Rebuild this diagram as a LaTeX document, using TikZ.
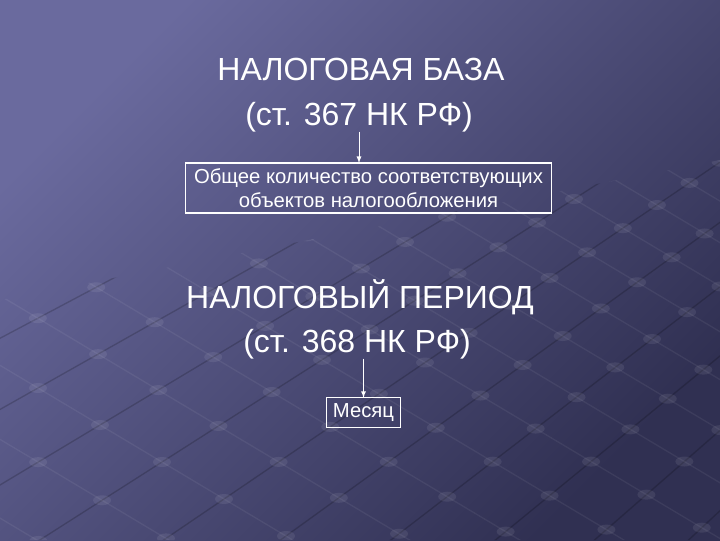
\documentclass[tikz,border=0pt]{standalone}
\usepackage{fontspec}
\setmainfont{Liberation Sans}
\usetikzlibrary{arrows, calc}
\definecolor{bgLight}{RGB}{106,106,158}
\definecolor{bgDark}{RGB}{48,48,82}

\begin{document}
\begin{tikzpicture}[x=0.75pt, y=-0.75pt, every node/.style={text=white, outer sep=0pt}]
	\tikzstyle{title}=[
		font=\fontsize{24}{28}\selectfont,
		inner sep=0pt
	]
	\tikzstyle{box}=[
		draw=white,
		line width=0.8pt,
		align=center,
		inner sep=0pt,
		font=\fontsize{15.2}{18.5}\selectfont
	]
	\tikzstyle{link}=[
		draw=white,
		line width=0.7pt,
		-latex
	]
	\tikzstyle{groove}=[black, opacity=0.18, line width=1pt]
	\tikzstyle{ridge}=[white, opacity=0.06, line width=1pt]
	\tikzstyle{knot}=[white, opacity=0.08]
	
	\shade [top color=bgLight, bottom color=bgDark, shading angle=45] (0,0) rectangle (720,540);
	\useasboundingbox (0,0) rectangle (720,540);
	
	\begin{scope}
		\clip (0,300) -- (720,160) -- (720,540) -- (0,540) -- cycle;
		\foreach \u in {0,...,16}
			\foreach \v in {0,...,16}
				\coordinate (g\u-\v) at ({100+(62*(\u-6)+60*(\v-4))/(1+0.03*(\v-4))}, {425+(37*(\u-6)-36*(\v-4))/(1+0.03*(\v-4))});
		\foreach \u in {0,...,16}
			\draw [groove] (g\u-0) -- (g\u-16);
		\foreach \v in {0,...,16}
			\draw [ridge] (g0-\v) -- (g16-\v);
		\foreach \u in {0,...,16}
			\foreach \v in {0,...,16}
				\fill [knot] (g\u-\v) ellipse (9 and 5);
	\end{scope}
	
	\node (baseA) [title, anchor=base] at (361,80) {НАЛОГОВАЯ БАЗА};
	\node (artA) [title, anchor=base] at (359,125) {(ст. 367 НК РФ)};
	\node (boxA) [box, minimum width=275pt, minimum height=37.5pt] at (368.5,188)
		{Общее количество соответствующих\\объектов налогообложения};
	\draw [link] (artA.south) -- (artA.south |- boxA.north);
	
	\node (periodB) [title, anchor=base] at (360,308) {НАЛОГОВЫЙ ПЕРИОД};
	\node (artB) [title, anchor=base] at (357,352) {(ст. 368 НК РФ)};
	\node (boxB) [box, minimum width=56pt, minimum height=22pt] at (363.5,412.5) {Месяц};
	\draw [link] (boxB.north |- artB.south) -- (boxB.north);
\end{tikzpicture}
\end{document}
